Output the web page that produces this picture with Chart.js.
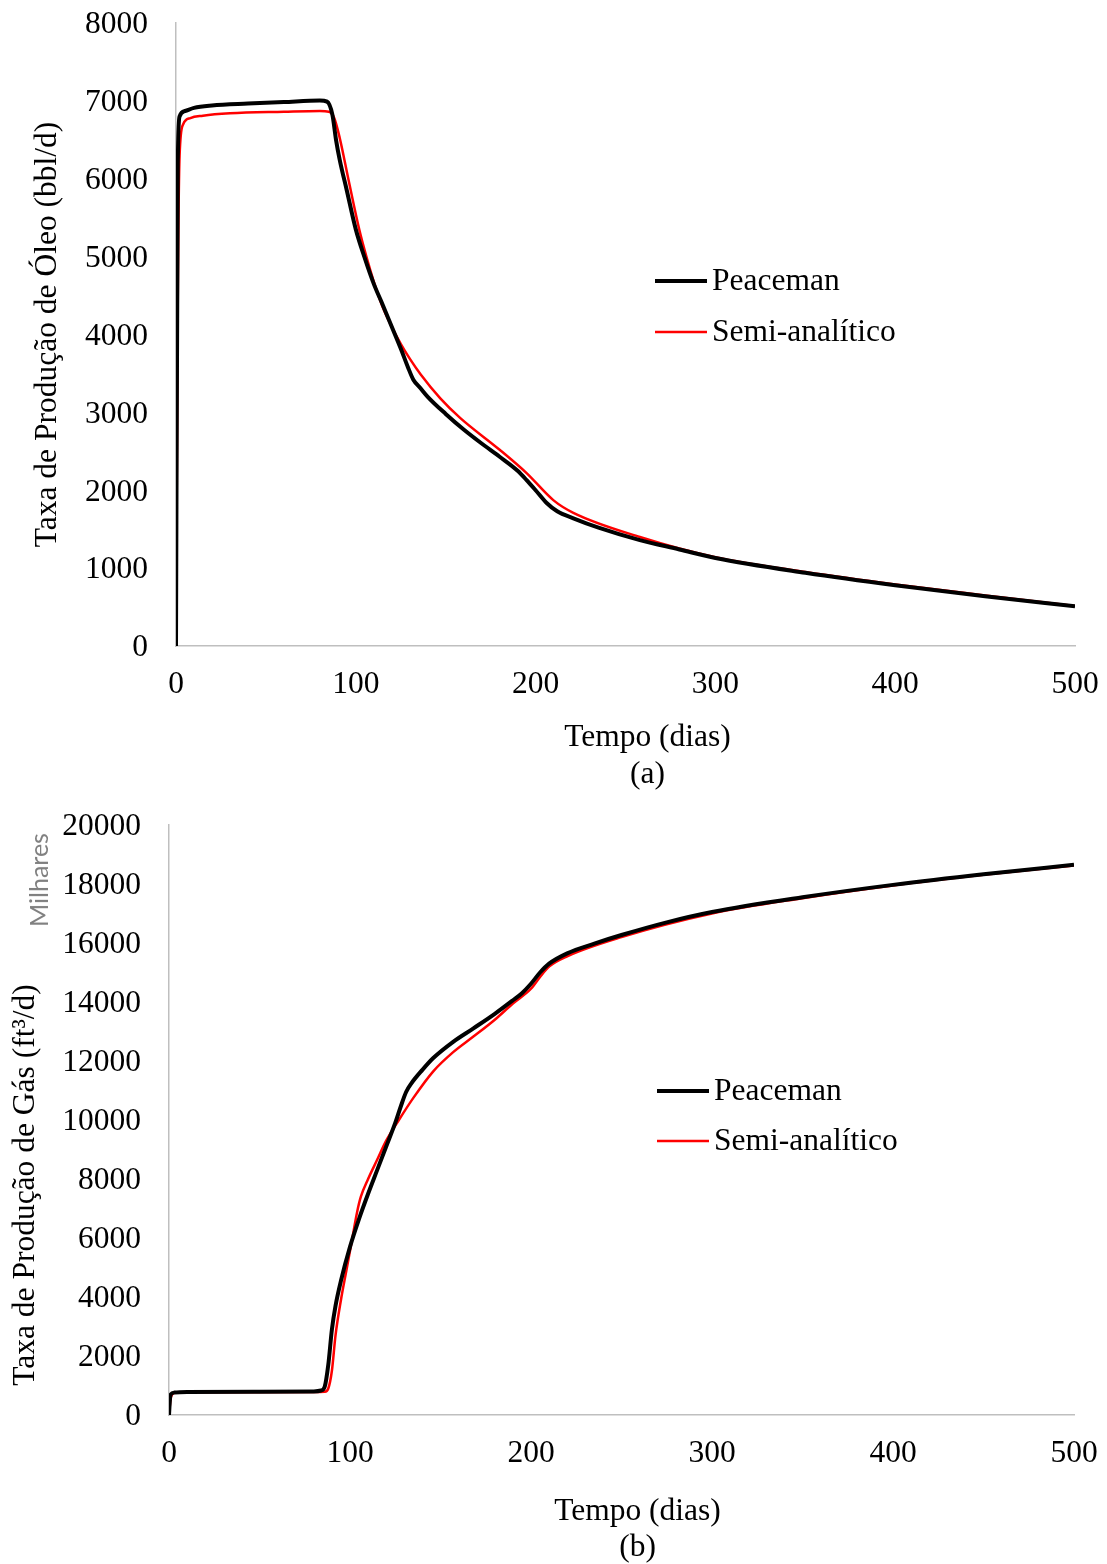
<!DOCTYPE html>
<html>
<head>
<meta charset="utf-8">
<script src="https://cdn.jsdelivr.net/npm/chart.js@4.4.1/dist/chart.umd.min.js"></script>
<style>
  body { margin: 0; background: #fff; }
  #wrap { position: relative; width: 1107px; height: 1564px; }
  canvas { position: absolute; left: 0; }
  #oil { top: 0; }
  #gas { top: 794px; }
  #milhares {
    position: absolute; left: 38px; top: 880px;
    transform: translate(-50%, -50%) rotate(-90deg);
    font-family: Lato, 'Open Sans', sans-serif; font-size: 25px; color: #7f7f7f;
    white-space: nowrap;
  }
</style>
</head>
<body>
<div id="wrap">
  <canvas id="oil" width="1107" height="794"></canvas>
  <canvas id="gas" width="1107" height="770"></canvas>
  <div id="milhares">Milhares</div>
</div>
<script>
// (a) oil rate, bbl/d
const oilPeacemanDays = [0, 1, 2, 5, 10, 20, 40, 60, 80, 84, 87, 89, 91, 95, 100, 105, 110, 115, 120, 125, 129, 132, 136, 140, 150, 160, 170, 180, 190, 195, 200, 206, 212, 221, 235, 258, 280, 300, 350, 400, 450, 500];
const oilPeaceman     = [0, 6200, 6800, 6870, 6910, 6940, 6965, 6985, 7005, 6990, 6820, 6500, 6250, 5850, 5350, 4980, 4650, 4380, 4100, 3820, 3580, 3420, 3310, 3200, 2980, 2780, 2600, 2430, 2250, 2130, 2000, 1840, 1730, 1640, 1520, 1360, 1240, 1130, 940, 780, 640, 510];
const oilSemiDays = [0, 1, 2, 4, 8, 15, 30, 60, 80, 85, 88, 91, 96, 102, 106, 110, 115, 120, 125, 130, 136, 147, 158, 180, 195, 210, 221, 258, 300, 350, 400, 450, 500];
const oilSemi     = [0, 4500, 6300, 6700, 6780, 6810, 6840, 6860, 6870, 6860, 6780, 6530, 5980, 5340, 4990, 4680, 4350, 4100, 3880, 3690, 3490, 3180, 2930, 2520, 2220, 1870, 1710, 1400, 1140, 950, 790, 650, 515];

// (b) gas rate, thousand ft3/d
const gasPeacemanDays = [0, 0.5, 1, 3, 10, 50, 80, 84, 86, 88, 90, 92, 95, 100, 105, 110, 115, 120, 125, 128, 131, 134, 140, 146, 157, 168, 180, 190, 195, 200, 205, 210, 220, 235, 250, 275, 300, 350, 400, 450, 500];
const gasPeaceman     = [0, 500, 700, 760, 780, 790, 800, 830, 950, 1700, 2900, 3700, 4550, 5700, 6650, 7500, 8300, 9100, 9900, 10450, 10950, 11250, 11700, 12100, 12650, 13100, 13600, 14060, 14300, 14620, 15000, 15300, 15650, 15980, 16270, 16700, 17050, 17550, 17970, 18330, 18650];
const gasSemiDays = [0, 1, 3, 10, 80, 86, 88, 90, 92, 95, 98, 101, 104, 106, 110, 115, 120, 127, 135, 146, 157, 168, 180, 190, 200, 205, 210, 220, 250, 300, 350, 400, 450, 500];
const gasSemi     = [0, 600, 750, 770, 780, 790, 900, 1500, 2700, 3900, 4900, 5900, 6900, 7400, 8000, 8650, 9300, 10000, 10750, 11650, 12300, 12820, 13400, 13950, 14450, 14850, 15200, 15550, 16200, 17000, 17520, 17950, 18310, 18630];

const seriesNames = ['Peaceman', 'Semi-analítico'];
const xTicks = [0, 100, 200, 300, 400, 500];

const serif = "'Liberation Serif', 'Times New Roman', serif";
const fontSize = 31.5;
Chart.defaults.font.family = serif;
Chart.defaults.font.size = fontSize;
Chart.defaults.color = '#000';

const pts = (xs, ys) => xs.map((x, i) => ({ x: x, y: ys[i] }));

// legend inside the plot area plus axis titles, placed like the Excel original
const decorations = {
  id: 'decorations',
  afterDraw(chart, args, opts) {
    const { ctx, chartArea } = chart;
    ctx.save();
    ctx.font = fontSize + 'px ' + serif;
    ctx.fillStyle = '#000';
    ctx.textBaseline = 'middle';
    chart.data.datasets.forEach((ds, i) => {
      const x = chartArea.left + opts.legendDx;
      const y = chartArea.top + opts.legendDy + i * opts.legendGap;
      ctx.strokeStyle = ds.borderColor;
      ctx.lineWidth = ds.borderWidth;
      ctx.beginPath();
      ctx.moveTo(x, y);
      ctx.lineTo(x + 52, y);
      ctx.stroke();
      ctx.textAlign = 'left';
      ctx.fillText(ds.label, x + 57, y + 1);
    });
    // x title (two lines)
    ctx.textAlign = 'center';
    const cx = (chartArea.left + chartArea.right) / 2 + opts.xShift;
    opts.xTitle.forEach((line, i) => {
      ctx.fillText(line, cx, chartArea.bottom + opts.xTitleDy[i]);
    });
    // y title, rotated
    ctx.translate(opts.yTitleX, (chartArea.top + chartArea.bottom) / 2 + opts.yShift);
    ctx.rotate(-Math.PI / 2);
    ctx.fillText(opts.yTitle, 0, 0);
    ctx.restore();
  }
};

function makeChart(id, blackPts, redPts, yMax, yStep, yWidth, padTop, padRight, xHeight, deco) {
  return new Chart(document.getElementById(id), {
    type: 'line',
    data: {
      datasets: [{
        label: seriesNames[0],
        data: blackPts,
        borderColor: '#000000',
        borderWidth: 4,
        pointRadius: 0,
        cubicInterpolationMode: 'monotone'
      }, {
        label: seriesNames[1],
        data: redPts,
        borderColor: '#ff0000',
        borderWidth: 2.5,
        pointRadius: 0,
        cubicInterpolationMode: 'monotone'
      }]
    },
    options: {
      responsive: false,
      animation: false,
      layout: { padding: { top: padTop, right: padRight, left: 0, bottom: 0 } },
      plugins: {
        legend: { display: false },
        tooltip: { enabled: false },
        decorations: deco
      },
      scales: {
        x: {
          type: 'linear',
          min: 0,
          max: 500,
          afterBuildTicks: s => { s.ticks = xTicks.map(v => ({ value: v })); },
          afterFit: s => { s.height = xHeight; s.paddingLeft = 0; s.paddingRight = 0; },
          grid: { display: false, drawTicks: false },
          border: { display: true, color: '#bfbfbf', width: 1.5 },
          ticks: { padding: 20, autoSkip: false, maxRotation: 0, callback: v => String(v) }
        },
        y: {
          min: 0,
          max: yMax,
          afterFit: s => { s.width = yWidth; s.paddingTop = 0; s.paddingBottom = 0; },
          grid: { display: false, drawTicks: false },
          border: { display: true, color: '#bfbfbf', width: 1.5 },
          ticks: { stepSize: yStep, padding: 28, labelOffset: 2, callback: v => String(v) }
        }
      }
    },
    plugins: [decorations]
  });
}

makeChart('oil', pts(oilPeacemanDays, oilPeaceman), pts(oilSemiDays, oilSemi),
  8000, 1000, 176, 23, 32, 148, {
    legendDx: 479, legendDy: 258, legendGap: 51,
    xTitle: ['Tempo (dias)', '(a)'], xShift: 22, xTitleDy: [92, 129],
    yTitle: 'Taxa de Produção de Óleo (bbl/d)', yTitleX: 48, yShift: 0
  });

makeChart('gas', pts(gasPeacemanDays, gasPeaceman), pts(gasSemiDays, gasSemi),
  20000, 2000, 169, 31, 33, 149, {
    legendDx: 488, legendDy: 266, legendGap: 50,
    xTitle: ['Tempo (dias)', '(b)'], xShift: 16, xTitleDy: [97, 133],
    yTitle: 'Taxa de Produção de Gás (ft³/d)', yTitleX: 26, yShift: 65
  });
</script>
</body>
</html>
